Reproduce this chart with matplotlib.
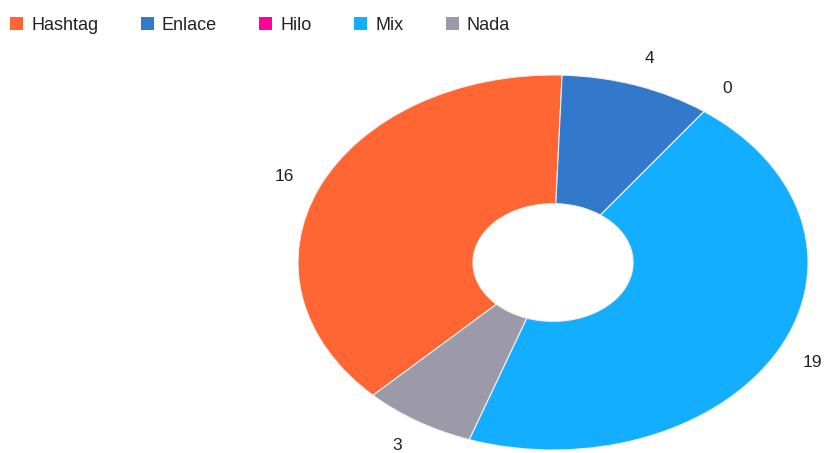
import matplotlib
matplotlib.use("Agg")
import matplotlib.pyplot as plt
from matplotlib.patches import Patch

plt.rcParams['font.family'] = ['Liberation Sans', 'DejaVu Sans']

categories = ["Hashtag", "Enlace", "Hilo", "Mix", "Nada"]
values = [16, 4, 0, 19, 3]
colors = ["#FF6633", "#3279CB", "#FF0099", "#13AEFF", "#9C9AA8"]

fig = plt.figure(figsize=(8.3, 4.53), dpi=100)
# ellipse box in pixels: x 298..808, y 75..450
ax = fig.add_axes([298/830, 3/453, 510/830, 375/453])

wedges, texts = ax.pie(values, labels=[str(v) for v in values], colors=colors,
                       startangle=225.1, counterclock=False, labeldistance=1.15,
                       wedgeprops=dict(width=0.686, edgecolor="#f0f0f0", linewidth=0.8),
                       textprops=dict(fontsize=12.5, color="#222222"))
for t in texts:
    t.set_ha("center")
    t.set_va("center")

ax.set_aspect("auto")
ax.set_xlim(-1, 1)
ax.set_ylim(-1, 1)
ax.axis("off")

handles = [Patch(facecolor=c, edgecolor="none") for c in colors]
fig.legend(handles, categories, loc="center left", bbox_to_anchor=(10/830, 1 - 25/453),
           ncol=5, frameon=False, fontsize=13, handlelength=0.72, handleheight=0.72,
           handletextpad=0.45, columnspacing=2.35, borderaxespad=0, borderpad=0,
           labelcolor="#222222")

fig.savefig("out.png", dpi=100)
